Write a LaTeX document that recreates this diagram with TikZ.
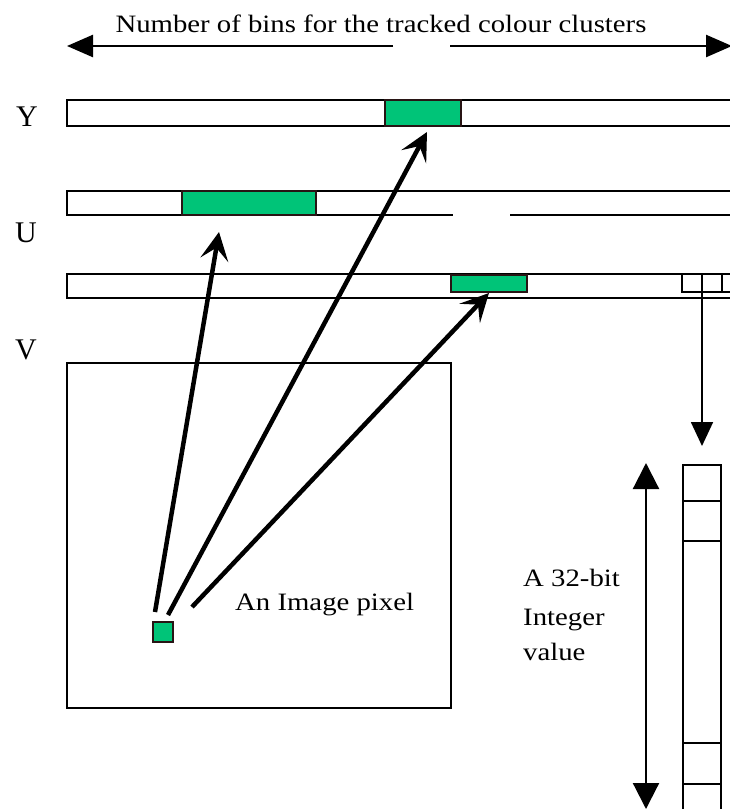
\documentclass[tikz,border=0pt]{standalone}
\usepackage{fontspec}
\setmainfont{Liberation Serif}
\usetikzlibrary{arrows.meta}
\definecolor{bingreen}{RGB}{0,196,120}
\definecolor{binedge}{RGB}{40,20,20}
\begin{document}
\begin{tikzpicture}[x=1pt,y=-1pt,
  bar/.style={draw=black,line width=1.8pt},
  bin/.style={draw=binedge,line width=1.8pt,fill=bingreen,inner sep=0pt,outer sep=0pt,anchor=north west},
  lbl/.style={font=\fontsize{30}{32}\selectfont,inner sep=0pt},
  txt/.style={font=\fontsize{25}{28}\selectfont,inner sep=0pt,xscale=1.15},
  pxarrow/.style={line width=4.5pt,-{Stealth[length=28pt,width=28pt,inset=12pt]}},
  bigarrow/.style={line width=2.2pt,{Triangle[length=26pt,width=26pt]}-{Triangle[length=26pt,width=26pt]}},
  headarrow/.style={line width=2.5pt,-{Triangle[length=26pt,width=22pt]}}]
\useasboundingbox (0,0) rectangle (730,809);
\clip (0,0) rectangle (730,809);

% title and top arrow
\node[txt] (title) at (381,24) {Number of bins for the tracked colour clusters};
\coordinate (tl) at (67,46);
\coordinate (tg1) at (393,46);
\coordinate (tg2) at (450,46);
\coordinate (tr) at (732,46);
\draw[headarrow] (tg1) -- (tl);
\draw[headarrow] (tg2) -- (tr);

% labels
\node[lbl] (ylab) at (27,117) {Y};
\node[lbl] (ulab) at (26,233) {U};
\node[lbl] (vlab) at (26,350) {V};

% Y bar
\draw[bar] (67,100) rectangle (745,126);
\node[bin,minimum width=76pt,minimum height=26pt] (ybin) at (385,100) {};

% U bar
\draw[bar] (745,191) -- (67,191) -- (67,215) -- (453,215);
\draw[bar] (510,215) -- (745,215);
\node[bin,minimum width=134pt,minimum height=24pt] (ubin) at (182,191) {};

% V bar
\draw[bar] (67,274) rectangle (745,298);
\node[bin,minimum width=76pt,minimum height=17pt] (vbin) at (451,275) {};
\draw[bar] (682,274) rectangle (745,292);
\draw[bar] (722,274) -- (722,292);
\coordinate (vtop) at (702,274);
\coordinate (vdown) at (702,446);
\draw[line width=1.8pt,-{Triangle[length=24pt,width=22pt]}] (vtop) -- (vdown);

% image
\draw[bar] (67,363) rectangle (451,708);
\node[bin,line width=2.2pt,minimum width=20pt,minimum height=20pt] (pixel) at (153,622) {};
\node[txt,anchor=west] (pixlab) at (235,605) {An Image pixel};

\coordinate (su) at (155,612);
\coordinate (sy) at (168,615);
\coordinate (sv) at (192,607);
\coordinate (tu) at (219,232);
\coordinate (ty) at (427,132);
\coordinate (tv) at (489,293);
\draw[pxarrow] (su) -- (tu);
\draw[pxarrow] (sy) -- (ty);
\draw[pxarrow] (sv) -- (tv);

% 32-bit column
\draw[bar] (683,465) rectangle (721,830);
\draw[bar] (683,501) -- (721,501);
\draw[bar] (683,541) -- (721,541);
\draw[line width=1.2pt] (683,743) -- (721,743);
\draw[line width=1.2pt] (683,784) -- (721,784);
\coordinate (dtop) at (646,463);
\coordinate (dbot) at (646,809);
\draw[bigarrow] (dtop) -- (dbot);

\node[txt,anchor=west] (t1) at (523,578) {A 32-bit};
\node[txt,anchor=west] (t2) at (523,620) {Integer};
\node[txt,anchor=west] (t3) at (523,652) {value};
\end{tikzpicture}
\end{document}
